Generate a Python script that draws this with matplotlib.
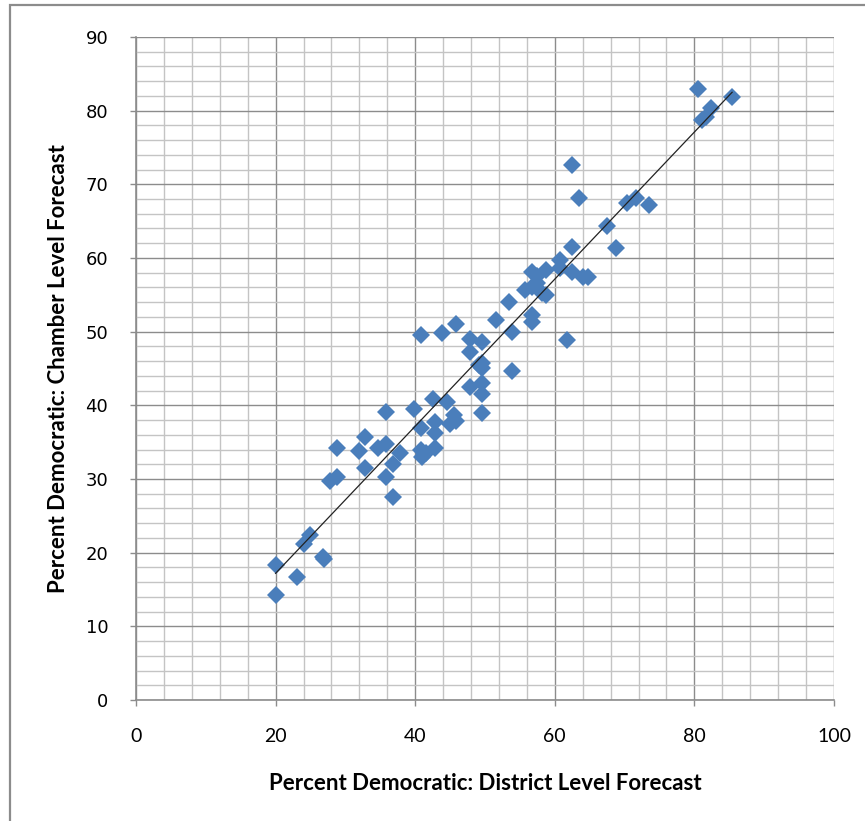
import numpy as np
import matplotlib
matplotlib.use("Agg")
import matplotlib.pyplot as plt
from matplotlib.patches import Rectangle
from matplotlib.ticker import MultipleLocator

# district level forecast (x) vs chamber level forecast (y)
district = [20, 20, 23, 24, 25, 26.8, 27, 27.8, 28.8, 28.8,
            31.9, 32.8, 32.8, 34.6, 35.8, 35.8, 35.8, 36.8, 36.8, 37.8,
            39.8, 40.8, 40.8, 40.8, 41, 41.6, 42.5, 42.8, 42.8, 42.8,
            43.8, 44.6, 45, 45.8, 45.6, 45.9, 47.8, 47.9, 47.9, 49.2,
            49.6, 49.5, 49.5, 49.6, 49.6, 49.6, 51.6, 53.5, 53.8, 53.8,
            55.7, 56.7, 56.8, 57.4, 56.7, 56.7, 58.1, 58.8, 58.8, 57.5,
            60.7, 60.7, 61.7, 62.5, 62.5, 62.5, 63.5, 64, 64.7, 67.5,
            68.7, 70.4, 71.7, 73.5, 80.5, 81.1, 81.7, 82.4, 85.4]
chamber = [18.3, 14.2, 16.7, 21.2, 22.4, 19.4, 19.1, 29.7, 30.3, 34.2,
           33.8, 35.7, 31.5, 34.2, 34.7, 39.1, 30.3, 32.0, 27.5, 33.5,
           39.5, 49.5, 36.9, 33.9, 33.0, 33.5, 40.8, 37.7, 36.2, 34.2,
           49.8, 40.4, 37.5, 51.0, 38.7, 37.9, 49.0, 47.3, 42.5, 45.5,
           48.6, 45.7, 45.0, 43.0, 41.6, 38.9, 51.6, 54.0, 50.0, 44.6,
           55.6, 58.1, 56.0, 56.6, 52.2, 51.3, 55.2, 55.0, 58.3, 57.5,
           59.7, 58.6, 48.8, 72.6, 61.5, 58.1, 68.1, 57.4, 57.4, 64.4,
           61.3, 67.4, 68.1, 67.2, 82.9, 78.7, 79.1, 80.3, 81.8]

x_ticks = [0, 20, 40, 60, 80, 100]
y_ticks = [0, 10, 20, 30, 40, 50, 60, 70, 80, 90]

fig = plt.figure(figsize=(8.65, 8.21), dpi=100)
ax = fig.add_axes([0.1572, 0.1474, 0.8070, 0.8076])

# excel style grid
ax.xaxis.set_minor_locator(MultipleLocator(4))
ax.yaxis.set_minor_locator(MultipleLocator(2))
ax.grid(which="minor", color="#c4c4c4", linewidth=1.0)
ax.grid(which="major", color="#8c8c8c", linewidth=1.0)
ax.set_axisbelow(True)

ax.plot(district, chamber, linestyle="none", marker="D", markersize=8.8,
        color="#4a7ebb", markeredgewidth=0, zorder=3)

# linear trend line over the data range
coef = np.polyfit(district, chamber, 1)
xs = np.array([min(district), max(district)])
ax.plot(xs, np.polyval(coef, xs), color="#222222", linewidth=0.9, zorder=4)

ax.set_xlim(0, 100)
ax.set_ylim(0, 90)
ax.set_xticks(x_ticks)
ax.set_yticks(y_ticks)
ax.set_xticklabels([str(v) for v in x_ticks], fontsize=14, family="Lato")
ax.set_yticklabels([str(v) for v in y_ticks], fontsize=13, family="DejaVu Sans")
ax.tick_params(which="major", direction="out", length=4, width=1, color="#8c8c8c")
ax.tick_params(axis="x", which="major", pad=16)
ax.tick_params(axis="y", which="major", pad=16)
ax.tick_params(which="minor", length=0)

for side in ["top", "right"]:
    ax.spines[side].set_visible(False)
for side in ["left", "bottom"]:
    ax.spines[side].set_color("#8c8c8c")
    ax.spines[side].set_linewidth(1.2)

ax.set_xlabel("Percent Democratic: District Level Forecast", fontsize=16,
              family="Lato", fontweight="bold", labelpad=20)
ax.set_ylabel("Percent Democratic: Chamber Level Forecast", fontsize=16,
              family="Lato", fontweight="bold", labelpad=12)

# chart area border (only left/top visible in the crop)
fig.patches.append(Rectangle((10 / 865, -0.1), 1.2, 1.1 - 5 / 821,
                             transform=fig.transFigure, fill=False,
                             edgecolor="#8c8c8c", linewidth=1.6))

fig.savefig("out.png", dpi=100)
